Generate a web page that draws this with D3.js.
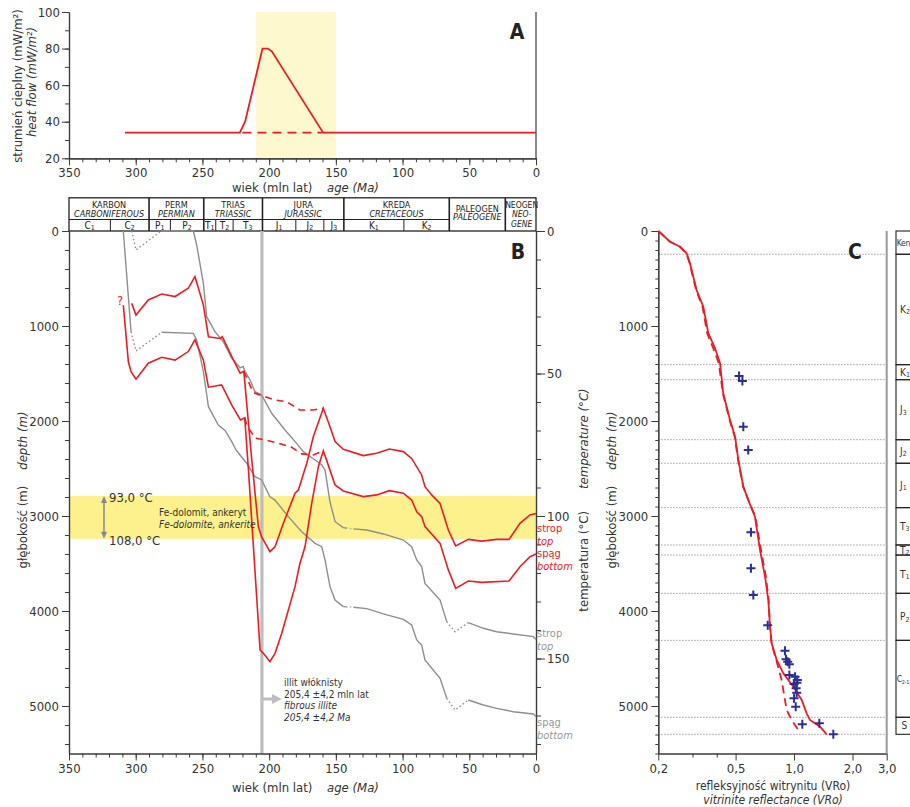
<!DOCTYPE html>
<html><head><meta charset="utf-8">
<script src="https://cdn.jsdelivr.net/npm/d3@7"></script>
<style>body{margin:0;background:#fff}</style>
</head><body><svg id="c" width="910" height="807"></svg>
<script>
// ---------- DATA ----------
const hfAge   = [308, 222, 218, 205, 201, 198, 163, 159.5, 0];
const hfValue = [34, 34, 40, 80, 80, 78.5, 38, 34, 34];
const hfRefAge = [220, 160];
const hfRefValue = [34, 34];
const pulseWindow = [210, 150];

const periodPl = ["KARBON","PERM","TRIAS","JURA","KREDA","PALEOGEN","NEOGEN"];
const periodEn = ["CARBONIFEROUS","PERMIAN","TRIASSIC","JURASSIC","CRETACEOUS","PALEOGENE","NEO-|GENE"];
const periodStart = [350,290,249,205,144,65,23];
const periodEnd   = [290,249,205,144,65,23,0];
const epochName  = ["C","C","P","P","T","T","T","J","J","J","K","K"];
const epochSub   = ["1","2","1","2","1","2","3","1","2","3","1","2"];
const epochStart = [350,319,290,274,249,240,227,205,180,159,144,99];
const epochEnd   = [319,290,274,249,240,227,205,180,159,144,99,65];

// burial curves: [age Ma, depth m]
const topDotted1 = [[303,0],[299.8,200],[281,0]];
const topSolid1 = [[281,0],[256.8,0],[254.3,147],[249.3,551],[246.8,902],[240.6,1060],[234.3,1165],[228,1340],[221.8,1440],[219.5,1425],[218,1480],[214.3,1568],[210.6,1691],[205.6,1726],[198.1,1919],[188.1,2095],[179.4,2235],[174.4,2323],[165.6,2411],[160.6,2463],[158.1,2516],[154.4,2850],[150.6,3060],[144.4,3123]];
const topDashDot = [[144.4,3123],[136.9,3135]];
const topSolid2 = [[136.9,3135],[126.9,3147],[114.4,3189],[99.4,3253],[93.2,3323],[89.4,3463],[85.7,3533],[83.2,3709],[71.9,3884],[66.9,4112]];
const topDotted2 = [[66.9,4112],[60.7,4218],[50.7,4123]];
const topSolid3 = [[50.7,4123],[39.5,4182],[29.5,4218],[17,4242],[2,4270],[0,4300]];

const botSolid1 = [[309.3,0],[303.5,1060]];
const botDotted1 = [[303.5,1060],[299.8,1263],[280.5,1066]];
const botSolid2 = [[280.5,1066],[256.8,1077],[254.3,1147],[249.3,1481],[245.5,1849],[238.1,2042],[233,2100],[228,2218],[224.8,2305],[221.8,2358],[216.8,2445],[210.6,2586],[205.6,2621],[199.4,2797],[195.6,2832],[185.6,3007],[175.6,3165],[165.6,3288],[160.6,3323],[158.1,3463],[154.4,3744],[150.6,3884],[144.4,3954]];
const botDashDot = [[144.4,3954],[136.9,3960]];
const botSolid3 = [[136.9,3960],[126.9,3975],[114.4,4030],[99.4,4088],[93.2,4147],[89.4,4305],[85.7,4358],[83.2,4516],[71.9,4709],[66.9,4919]];
const botDotted3 = [[66.9,4919],[60.7,5042],[50.7,4937]];
const botSolid4 = [[50.7,4937],[39.5,4989],[29.5,5025],[17,5060],[2,5084],[0,5110]];

// temperature histories: [age Ma, temperature °C]
const redTop = [[303,25.4],[299.8,29.5],[290.6,24.2],[280.5,22.1],[270.5,23.0],[260.6,20.1],[255.6,16.0],[249.3,26.0],[245.5,37.1],[236.8,37.7],[235.1,37.1],[228,44.1],[221.8,49.9],[219,49.2],[213,80.4],[208.1,103.7],[205.6,107.3],[199.4,112.5],[195.6,110.8],[189.4,102.6],[180.6,92.0],[178.1,90.9],[171.8,81.5],[166.9,72.2],[159.4,62.2],[154.4,68.7],[150.6,73.9],[144.4,76.6],[129.4,78.8],[119.4,78.0],[109.9,76.5],[99.4,77.4],[93.2,79.8],[85.7,85.6],[83.2,89.7],[78.2,92.6],[71.9,95.6],[65.7,104.9],[60.2,110.5],[50.7,108.2],[40.7,108.8],[29.5,108.2],[20.2,108.2],[12,102.6],[4.5,99.6],[0,99.1]];
const redBottom = [[309.3,26.0],[305.5,45.9],[303.5,49.4],[299.8,52.0],[290.6,46.4],[280.5,44.3],[270.5,45.3],[260.6,42.3],[255.6,38.2],[249.3,45.3],[245.5,54.8],[235.6,54.0],[228,61.1],[221.5,66.3],[218.3,65.5],[215.5,83.9],[210.5,120.1],[206.8,147.0],[204.3,148.2],[199.4,151.1],[195.6,148.2],[190.6,141.2],[180.6,124.8],[176.9,116.6],[173.1,110.8],[168.1,95.6],[163.1,82.7],[159.4,77.1],[154.4,83.9],[150.6,89.1],[144.4,91.2],[129.4,93.2],[119.4,92.6],[109.9,91.1],[99.4,92.0],[93.2,94.4],[89.4,98.5],[85.7,100.2],[83.2,103.7],[71.9,109.6],[65.7,118.9],[60.2,125.4],[50.7,122.8],[40.7,123.3],[20.2,122.8],[12,117.8],[4.5,114.3],[0,113.3]];
const redTopNoPulse = [[219,49.2],[211.9,56.7],[204,58.0],[195.6,59.3],[186.9,59.9],[176.9,62.8],[166.9,62.8],[159.4,62.2]];
const redBottomNoPulse = [[218.3,65.5],[216.8,68.1],[210.6,72.7],[203.1,73.3],[193.1,74.5],[183.1,75.9],[175.6,78.2],[166.9,78.6],[159.4,77.1]];
const dolomiteTemps = [93, 108];
const illiteAge = 205.4;

// panel C
const vroCalcDepth = [0,113,165,235,340,621,797,1077,1235,1393,1709,1989,2165,2411,2691,2832,3007,3358,3639,3884,4165,4340,4516,4656,4797,4937,5077,5147,5218,5298];
const vroCalc      = [0.2,0.23,0.259,0.28,0.291,0.315,0.341,0.362,0.392,0.416,0.432,0.468,0.497,0.517,0.548,0.581,0.629,0.668,0.709,0.737,0.752,0.767,0.814,0.881,0.991,1.095,1.161,1.208,1.36,1.473];
const vroAltDepth = [0,113,165,235,340,621,797,1077,1235,1393,1709,1989,2165,2411,2691,2832,3007,3358,3639,3884,4165,4340,4516,4726,5042,5147,5253];
const vroAlt      = [0.2,0.23,0.258,0.279,0.29,0.313,0.338,0.357,0.384,0.41,0.43,0.466,0.495,0.515,0.547,0.582,0.632,0.676,0.716,0.74,0.752,0.765,0.81,0.863,0.916,0.973,1.052];
const vroMeasDepth = [1526,1579,2060,2305,3172,3551,3832,4151,4418,4509,4535,4561,4674,4691,4726,4754,4768,4814,4860,4919,5007,5193,5182,5298];
const vroMeas      = [0.521,0.542,0.548,0.581,0.600,0.600,0.617,0.732,0.898,0.909,0.928,0.946,0.946,1.012,1.040,1.035,0.999,1.025,1.032,1.0,1.02,1.103,1.35,1.593];
const stratTop  = [0,245,1407,1565,2197,2445,2912,3305,3411,3814,4309,5119];
const stratBase = [245,1407,1565,2197,2445,2912,3305,3411,3814,4309,5119,5298];
const stratName = ["Ken","K","K","J","J","J","T","T","T","P","C","S"];
const stratSub  = ["","2","1","3","2","1","3","2","1","2","2-1",""];
const vroTicks = [0.2,0.5,1.0,2.0,3.0];
const vroMinorTicks = [0.3,0.4];

// ---------- DRAW ----------
const FONT = "'Liberation Sans Narrow','Arial Narrow','DejaVu Sans Condensed','Liberation Sans',sans-serif";
const RED="#ec1c24", GRAY="#8e8e8e", AX="#3c3c3c", BLUE="#2b3090";
const svg = d3.select("#c").style("font-family", FONT);

const xAge = d3.scaleLinear().domain([350,0]).range([69,536]);
const yHF  = d3.scaleLinear().domain([20,100]).range([158.3,12]);
const yDep = d3.scaleLinear().domain([0,5500]).range([231,753.5]);
const yTmp = d3.scaleLinear().domain([0,5500/30]).range([231,753.5]);
const xVR  = d3.scaleLog().domain([0.2,3]).range([658.3,886.7]);

function style(g, fs){
  g.attr("font-family", FONT).attr("font-size", fs||13);
  g.select(".domain").attr("stroke", AX).attr("stroke-width", 1.2);
  g.selectAll(".tick line").attr("stroke", AX).attr("stroke-width", 1);
  g.selectAll(".tick text").attr("fill", "#333");
  return g;
}
function txt(x, y, s, opt){
  opt = opt||{};
  const t = svg.append("text").attr("x", x).attr("y", y).text(s)
    .attr("font-size", opt.fs||13).attr("fill", opt.fill||"#333")
    .attr("text-anchor", opt.anchor||"start");
  if (opt.italic) t.attr("font-style","italic");
  if (opt.bold) t.attr("font-weight","bold");
  return t;
}

// ===== Panel A =====
svg.append("rect").attr("x", xAge(pulseWindow[0])).attr("y", yHF(100))
  .attr("width", xAge(pulseWindow[1]) - xAge(pulseWindow[0])).attr("height", yHF(20)-yHF(100))
  .attr("fill", "#fdf8cd");
style(svg.append("g").attr("transform","translate(69,0)")
  .call(d3.axisLeft(yHF).tickValues(d3.range(20,101,10)).tickSize(4).tickSizeOuter(0).tickFormat("")));
style(svg.append("g").attr("transform","translate(69,0)")
  .call(d3.axisLeft(yHF).tickValues([20,40,60,80,100]).tickSize(7).tickSizeOuter(0).tickPadding(2)));
style(svg.append("g").attr("transform",`translate(0,${yHF(20)})`)
  .call(d3.axisBottom(xAge).tickValues(d3.range(0,351,10)).tickSize(4).tickSizeOuter(0).tickFormat("")));
style(svg.append("g").attr("transform",`translate(0,${yHF(20)})`)
  .call(d3.axisBottom(xAge).tickValues(d3.range(0,351,50)).tickSize(7).tickSizeOuter(0).tickPadding(2)));
svg.append("line").attr("x1",xAge(0)).attr("x2",xAge(0)).attr("y1",yHF(100)).attr("y2",yHF(20)).attr("stroke",AX).attr("stroke-width",1.2);

const hfPts = hfAge.map((a,i)=>[a,hfValue[i]]);
const hfLine = d3.line().x(d=>xAge(d[0])).y(d=>yHF(d[1]));
svg.append("path").attr("d", hfLine(hfRefAge.map((a,i)=>[a,hfRefValue[i]])))
  .attr("fill","none").attr("stroke",RED).attr("stroke-width",1.8).attr("stroke-dasharray","9,6");
svg.append("path").attr("d", hfLine(hfPts)).attr("fill","none").attr("stroke",RED).attr("stroke-width",1.8);
txt(517, 39, "A", {fs:21, bold:true, fill:"#222", anchor:"middle"});

function vlabel(x, cy, parts){
  const t = svg.append("text").attr("transform",`translate(${x},${cy}) rotate(-90)`)
    .attr("text-anchor","middle").attr("font-size",13).attr("fill","#333");
  parts.forEach((p,i)=>{
    const s = t.append("tspan").text(p.t);
    if (i>0) s.attr("dx", p.dx||0);
    if (p.it) s.attr("font-style","italic");
  });
  return t;
}
vlabel(21.5, 86, [{t:"strumień cieplny (mW/m²)"}]);
vlabel(36, 82, [{t:"heat flow (mW/m²)", it:true}]);
txt(232, 192, "wiek (mln lat)");
txt(327, 192, "age (Ma)", {italic:true});

// ===== Stratigraphic header =====
const hdr = svg.append("g");
hdr.append("rect").attr("x",xAge(350)).attr("y",197.8).attr("width",xAge(0)-xAge(350)).attr("height",33.2)
  .attr("fill","none").attr("stroke","#222").attr("stroke-width",1.3);
hdr.append("line").attr("x1",xAge(350)).attr("x2",xAge(65)).attr("y1",219.5).attr("y2",219.5).attr("stroke","#222");
periodStart.forEach((s,i)=>{
  if (i>0) hdr.append("line").attr("x1",xAge(s)).attr("x2",xAge(s)).attr("y1",197.8).attr("y2",231)
    .attr("stroke","#222").attr("stroke-width",1.6);
  const cx = (xAge(s)+xAge(periodEnd[i]))/2;
  if (i<5){
    txt(cx, 208, periodPl[i], {fs:9, anchor:"middle", fill:"#222"});
    txt(cx, 216.5, periodEn[i], {fs:9, anchor:"middle", fill:"#222", italic:true});
  } else if (i===5){
    txt(cx, 211.5, periodPl[i], {fs:9, anchor:"middle", fill:"#222"});
    txt(cx, 220, periodEn[i], {fs:9, anchor:"middle", fill:"#222", italic:true});
  } else {
    txt(cx+1, 207.5, periodPl[i], {fs:8.5, anchor:"middle", fill:"#222"});
    const p = periodEn[i].split("|");
    txt(cx+1, 217, p[0], {fs:8.5, anchor:"middle", fill:"#222", italic:true});
    txt(cx+1, 226.5, p[1], {fs:8.5, anchor:"middle", fill:"#222", italic:true});
  }
});
epochStart.forEach((s,i)=>{
  if (i>0 && periodStart.indexOf(s)<0) hdr.append("line").attr("x1",xAge(s)).attr("x2",xAge(s)).attr("y1",219.5).attr("y2",231).attr("stroke","#222");
  const cx = (xAge(s)+xAge(epochEnd[i]))/2;
  const t = hdr.append("text").attr("x",cx).attr("y",228.5).attr("text-anchor","middle").attr("font-size",10).attr("fill","#222");
  t.append("tspan").text(epochName[i]);
  t.append("tspan").attr("font-size",7).attr("dy",1.5).text(epochSub[i]);
});

// ===== Panel B =====
svg.append("rect").attr("x",xAge(350)).attr("y",yTmp(dolomiteTemps[0]))
  .attr("width",xAge(0)-xAge(350)).attr("height",yTmp(dolomiteTemps[1])-yTmp(dolomiteTemps[0]))
  .attr("fill","#fcf18c");
svg.append("line").attr("x1",xAge(illiteAge)).attr("x2",xAge(illiteAge)).attr("y1",231).attr("y2",753.5)
  .attr("stroke","#bdbdbd").attr("stroke-width",3.2);

style(svg.append("g").attr("transform","translate(69,0)")
  .call(d3.axisLeft(yDep).tickValues(d3.range(0,5501,200)).tickSize(4).tickSizeOuter(0).tickFormat("")));
style(svg.append("g").attr("transform","translate(69,0)")
  .call(d3.axisLeft(yDep).tickValues(d3.range(0,5001,1000)).tickSize(7).tickSizeOuter(0).tickPadding(3).tickFormat(d3.format("d"))));
style(svg.append("g").attr("transform","translate(536,0)")
  .call(d3.axisRight(yTmp).tickValues(d3.range(0,181,10)).tickSize(5).tickSizeOuter(0).tickFormat("")));
style(svg.append("g").attr("transform","translate(536,0)")
  .call(d3.axisRight(yTmp).tickValues([0,50,100,150]).tickSize(9).tickSizeOuter(0).tickPadding(2)));
style(svg.append("g").attr("transform","translate(0,753.5)")
  .call(d3.axisBottom(xAge).tickValues(d3.range(0,351,10)).tickSize(4).tickSizeOuter(0).tickFormat("")));
style(svg.append("g").attr("transform","translate(0,753.5)")
  .call(d3.axisBottom(xAge).tickValues(d3.range(0,351,50)).tickSize(7).tickSizeOuter(0).tickPadding(3)));

const depLine = d3.line().x(d=>xAge(d[0])).y(d=>yDep(d[1]));
const tmpLine = d3.line().x(d=>xAge(d[0])).y(d=>yTmp(d[1]));
function gpath(data, dash){
  const p = svg.append("path").attr("d",depLine(data)).attr("fill","none").attr("stroke",GRAY).attr("stroke-width",1.4);
  if (dash) p.attr("stroke-dasharray",dash);
}
[topSolid1,topSolid2,topSolid3,botSolid1,botSolid2,botSolid3,botSolid4].forEach(d=>gpath(d));
[topDotted1,topDotted2,botDotted1,botDotted3].forEach(d=>gpath(d,"1.5,2.5"));
[topDashDot,botDashDot].forEach(d=>gpath(d,"4,3,1,3"));

function rpath(data, dash){
  const p = svg.append("path").attr("d",tmpLine(data)).attr("fill","none").attr("stroke",RED).attr("stroke-width",1.6);
  if (dash) p.attr("stroke-dasharray",dash);
}
rpath(redTopNoPulse,"7,5");
rpath(redBottomNoPulse,"7,5");
rpath(redTop);
rpath(redBottom);

txt(120, 305, "?", {fs:13, fill:RED, anchor:"middle"});
txt(518, 259, "B", {fs:21, bold:true, fill:"#222", anchor:"middle"});

// dolomite annotation
const arX = 104, aT = yTmp(dolomiteTemps[0])+1, aB = yTmp(dolomiteTemps[1])-1;
svg.append("line").attr("x1",arX).attr("x2",arX).attr("y1",aT+5).attr("y2",aB-5).attr("stroke","#888").attr("stroke-width",1.5);
svg.append("path").attr("d",`M${arX-3},${aT+6}L${arX},${aT-1}L${arX+3},${aT+6}Z`).attr("fill","#888");
svg.append("path").attr("d",`M${arX-3},${aB-6}L${arX},${aB+1}L${arX+3},${aB-6}Z`).attr("fill","#888");
txt(109, 502, "93,0 °C", {fs:13});
txt(109, 545, "108,0 °C", {fs:13});
txt(159, 516, "Fe-dolomit, ankeryt", {fs:10});
txt(159, 527.5, "Fe-dolomite, ankerite", {fs:10, italic:true});

// illite annotation
const ilx = xAge(illiteAge);
svg.append("line").attr("x1",ilx+1).attr("x2",ilx+11).attr("y1",699).attr("y2",699).attr("stroke","#bdbdbd").attr("stroke-width",3);
svg.append("path").attr("d",`M${ilx+10},${694}L${ilx+20},${699}L${ilx+10},${704}Z`).attr("fill","#bdbdbd");
txt(284, 686, "illit włóknisty", {fs:10});
txt(284, 697.5, "205,4 ±4,2 mln lat", {fs:10});
txt(284, 709, "fibrous illite", {fs:10, italic:true});
txt(284, 720.5, "205,4 ±4,2 Ma", {fs:10, italic:true});

// end labels
txt(537, 532, "strop", {fs:11, fill:RED});
txt(537, 544.5, "top", {fs:11, fill:RED, italic:true});
txt(537, 557, "spąg", {fs:11, fill:RED});
txt(537, 570, "bottom", {fs:11, fill:RED, italic:true});
txt(537, 637, "strop", {fs:11, fill:"#999"});
txt(537, 649.5, "top", {fs:11, fill:"#999", italic:true});
txt(537, 726, "spąg", {fs:11, fill:"#999"});
txt(537, 739, "bottom", {fs:11, fill:"#999", italic:true});

vlabel(26.5, 490, [{t:"głębokość (m)"},{t:"depth (m)", it:true, dx:16}]);
vlabel(588, 500, [{t:"temperatura (°C)"},{t:"temperature (°C)", it:true, dx:22}]);
txt(232, 792, "wiek (mln lat)");
txt(327, 792, "age (Ma)", {italic:true});

// ===== Panel C =====
stratBase.forEach(d=>{
  svg.append("line").attr("x1",658.3).attr("x2",886.7).attr("y1",yDep(d)).attr("y2",yDep(d))
    .attr("stroke","#888").attr("stroke-width",1).attr("stroke-dasharray","1.2,1.8");
});
style(svg.append("g").attr("transform","translate(658.3,0)")
  .call(d3.axisLeft(yDep).tickValues(d3.range(0,5501,100)).tickSize(3).tickSizeOuter(0).tickFormat("")));
style(svg.append("g").attr("transform","translate(658.3,0)")
  .call(d3.axisLeft(yDep).tickValues(d3.range(0,5001,1000)).tickSize(7).tickSizeOuter(0).tickPadding(3).tickFormat(d3.format("d"))));
style(svg.append("g").attr("transform","translate(0,753.5)")
  .call(d3.axisBottom(xVR).tickValues(vroMinorTicks).tickSize(4).tickSizeOuter(0).tickFormat("")));
style(svg.append("g").attr("transform","translate(0,753.5)")
  .call(d3.axisBottom(xVR).tickValues(vroTicks).tickSize(7).tickSizeOuter(0).tickPadding(3)
    .tickFormat(d=>d3.format(".1f")(d).replace(".",","))));
svg.append("line").attr("x1",886.7).attr("x2",886.7).attr("y1",231).attr("y2",753.5).attr("stroke","#9a9a9a").attr("stroke-width",2);

const vrLine = d3.line().x(d=>xVR(d[0])).y(d=>yDep(d[1]));
svg.append("path").attr("d",vrLine(vroAlt.map((v,i)=>[v,vroAltDepth[i]]))).attr("fill","none")
  .attr("stroke",RED).attr("stroke-width",1.8).attr("stroke-dasharray","8,5");
svg.append("path").attr("d",vrLine(vroCalc.map((v,i)=>[v,vroCalcDepth[i]]))).attr("fill","none")
  .attr("stroke",RED).attr("stroke-width",1.8);
vroMeas.forEach((v,i)=>{
  const x = xVR(v), y = yDep(vroMeasDepth[i]), r = 4.5;
  svg.append("path").attr("d",`M${x-r},${y}H${x+r}M${x},${y-r}V${y+r}`).attr("stroke",BLUE).attr("stroke-width",2).attr("fill","none");
});
txt(855, 259, "C", {fs:21, bold:true, fill:"#222", anchor:"middle"});

// strat column
stratTop.forEach((t,i)=>{
  svg.append("rect").attr("x",896).attr("y",yDep(t)).attr("width",30).attr("height",yDep(stratBase[i])-yDep(t))
    .attr("fill","none").attr("stroke","#222").attr("stroke-width",1.1);
  const cy = (yDep(t)+yDep(stratBase[i]))/2 + 3.5;
  const lx = (i===0||i===10) ? 896.8 : (i===11 ? 901.5 : 900);
  const tt = svg.append("text").attr("x",lx).attr("y",cy).attr("font-size",(i===0||i===10)?8.5:10).attr("fill","#333");
  if (i===0||i===10) tt.attr("letter-spacing",-0.3);
  tt.append("tspan").text(stratName[i]);
  if (stratSub[i]) tt.append("tspan").attr("font-size",i===10?5.5:7).attr("dy",1.5).text(stratSub[i]);
});

vlabel(615.5, 490, [{t:"głębokość (m)"},{t:"depth (m)", it:true, dx:16}]);
txt(773, 789.5, "refleksyjność witrynitu (VRo)", {anchor:"middle", fs:12});
txt(773, 803.5, "vitrinite reflectance (VRo)", {anchor:"middle", italic:true, fs:12});
</script></body></html>
